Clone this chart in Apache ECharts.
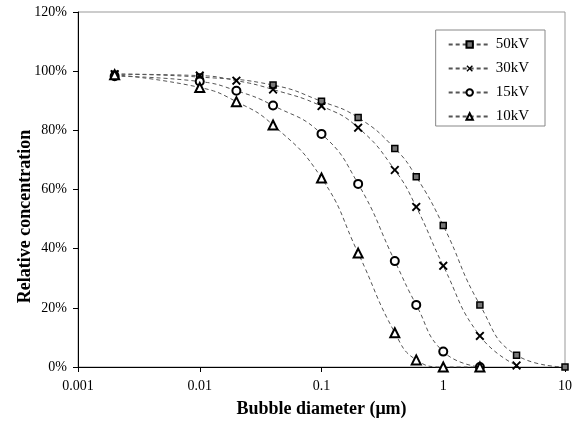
<!DOCTYPE html>
<html>
<head>
<meta charset="utf-8">
<script src="https://cdn.jsdelivr.net/npm/echarts@6/dist/echarts.min.js"></script>
<style>
  html, body { margin: 0; padding: 0; background: #fff; }
  #chart { width: 583px; height: 422px; }
</style>
</head>
<body>
<div id="chart"></div>
<script>
// bubble diameter (um) and relative concentration (%) for each voltage
const diam50 = [0.002, 0.01, 0.04, 0.1, 0.2, 0.4, 0.6, 1, 2, 4, 10]
const conc50 = [99, 98, 95.3, 89.8, 84.3, 73.9, 64.3, 47.8, 21, 4, 0]

const diam30 = [0.002, 0.01, 0.02, 0.04, 0.1, 0.2, 0.4, 0.6, 1, 2, 4]
const conc30 = [99, 98.5, 96.8, 93.8, 88.2, 80.9, 66.6, 54.1, 34.2, 10.5, 0.5]

const diam15 = [0.002, 0.01, 0.02, 0.04, 0.1, 0.2, 0.4, 0.6, 1, 2]
const conc15 = [98.3, 96.5, 93.4, 88.4, 78.8, 61.9, 35.8, 21, 5.2, 0]

const diam10 = [0.002, 0.01, 0.02, 0.04, 0.1, 0.2, 0.4, 0.6, 1, 2]
const conc10 = [98.8, 94.5, 89.7, 81.8, 63.9, 38.5, 11.6, 2.4, 0, 0]

const seriesNames = ['50kV', '30kV', '15kV', '10kV']

function pairs(xs, ys) {
  return xs.map((x, i) => [x, ys[i]])
}

const crossPath = 'path://M0,1.5 L1.5,0 L5,3.5 L8.5,0 L10,1.5 L6.5,5 L10,8.5 L8.5,10 L5,6.5 L1.5,10 L0,8.5 L3.5,5 Z'

function makeSeries(name, data, symbol, size, itemStyle) {
  return {
    name: name,
    type: 'line',
    data: data,
    smooth: 0.5,
    symbol: symbol,
    symbolSize: size,
    lineStyle: { color: '#555', width: 1, type: [4, 3] },
    itemStyle: itemStyle,
    z: 3
  }
}

const myChart = echarts.init(document.getElementById('chart'))
const serif = 'Liberation Serif'

let option = {
  animation: false,
  backgroundColor: '#fff',
  textStyle: { fontFamily: serif },
  grid: {
    left: 78, right: 18, top: 12, bottom: 55,
    containLabel: false,
    outerBoundsMode: 'none',
    show: true, borderColor: '#999', borderWidth: 1
  },
  legend: {
    right: 38, top: 30,
    orient: 'vertical',
    itemGap: 9,
    itemWidth: 42, itemHeight: 8,
    padding: [7, 16, 2, 12],
    borderColor: '#888', borderWidth: 1,
    backgroundColor: '#fff',
    textStyle: { fontFamily: serif, fontSize: 15, color: '#000' },
    data: seriesNames
  },
  xAxis: {
    type: 'log',
    logBase: 10,
    min: 0.001,
    max: 10,
    name: 'Bubble diameter (μm)',
    nameLocation: 'middle',
    nameGap: 33,
    nameMoveOverlap: false,
    nameTextStyle: { fontFamily: serif, fontSize: 18, fontWeight: 'bold', color: '#000' },
    axisLine: { lineStyle: { color: '#000', width: 1 } },
    axisTick: { length: 5, lineStyle: { color: '#000' } },
    axisLabel: {
      fontFamily: serif, fontSize: 14, color: '#000', margin: 12,
      formatter: v => String(+Number(v).toPrecision(1))
    },
    splitLine: { show: false },
    minorTick: { show: false }
  },
  yAxis: {
    type: 'value',
    min: 0, max: 120, interval: 20,
    name: 'Relative concentration',
    nameLocation: 'middle',
    nameGap: 44,
    nameMoveOverlap: false,
    nameTextStyle: {
      fontFamily: serif, fontSize: 18, fontWeight: 'bold', color: '#000',
      padding: [0, 54, 0, 0]
    },
    axisLine: { show: true, lineStyle: { color: '#000', width: 1 } },
    axisTick: { show: true, length: 5, lineStyle: { color: '#000' } },
    axisLabel: { fontFamily: serif, fontSize: 14, color: '#000', margin: 11, formatter: '{value}%' },
    splitLine: { show: false }
  },
  series: [
    makeSeries('50kV', pairs(diam50, conc50), 'rect', 6,
      { color: '#777', borderColor: '#000', borderWidth: 1.5 }),
    makeSeries('30kV', pairs(diam30, conc30), crossPath, 9,
      { color: '#000' }),
    makeSeries('15kV', pairs(diam15, conc15), 'emptyCircle', 8,
      { color: '#000', borderColor: '#000', borderWidth: 1.6 }),
    makeSeries('10kV', pairs(diam10, conc10), 'emptyTriangle', 9,
      { color: '#000', borderColor: '#000', borderWidth: 1.6 })
  ]
}

myChart.setOption(option)
</script>
</body>
</html>
